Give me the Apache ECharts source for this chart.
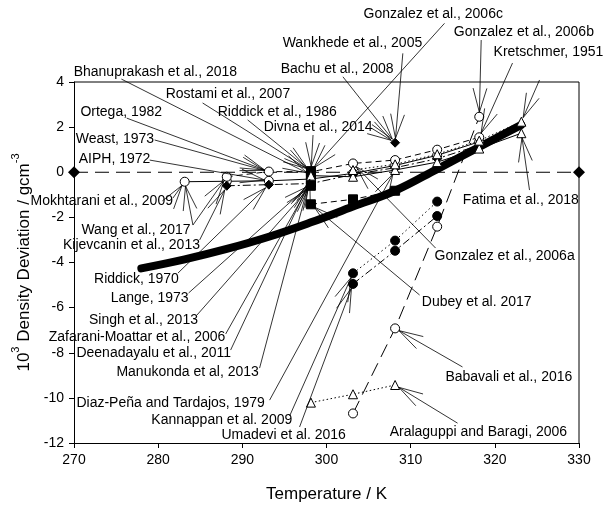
<!DOCTYPE html>
<html>
<head>
<meta charset="utf-8">
<script src="https://cdn.jsdelivr.net/npm/echarts@6/dist/echarts.min.js"></script>
<style>
  html, body { margin: 0; padding: 0; background: #fff; }
  #chart { width: 606px; height: 509px; }
</style>
</head>
<body>
<div id="chart"></div>
<script>
// ---- axis ticks ----
const xTicks = [270, 280, 290, 300, 310, 320, 330];
const yTicks = [4, 2, 0, -2, -4, -6, -8, -10, -12];

// ---- zero-deviation reference ----
const refT = [270, 330];
const refD = [0, 0];

// ---- smoothed correlation curve ----
const curveT = [278, 283.15, 288.15, 293.15, 298.15, 303.15, 308.15, 313.15, 318.15, 323.15];
const curveD = [-4.26, -3.86, -3.4, -2.86, -2.22, -1.52, -0.82, 0.14, 1.12, 2.1];

// ---- literature data sets ----
const circAT = [283.15, 288.15, 293.15, 298.15, 303.15, 308.15, 313.15, 318.15];
const circAD = [-0.42, -0.4, -0.38, -0.3, -0.05, 0.3, 0.75, 1.35];

const circBT = [288.15, 293.15, 298.15, 303.15, 308.15, 313.15, 318.15];
const circBD = [-0.2, 0.03, 0.02, 0.39, 0.54, 1.0, 1.55];

const diamCT = [288.15, 293.15, 298.15, 303.15, 308.15, 313.15, 318.15];
const diamCD = [-0.6, -0.55, -0.5, -0.1, 0.2, 0.6, 1.2];

const sq298T = [298.15, 298.15, 298.15, 298.15, 298.15];
const sq298D = [0.05, -0.12, -0.3, -0.45, -0.6];

const triET = [298.15, 303.15, 308.15, 313.15, 318.15, 323.15];
const triED = [-0.15, -0.2, 0.1, 0.45, 1.05, 1.73];

const triFT = [303.15, 308.15, 313.15, 318.15, 323.15];
const triFD = [0.1, 0.35, 0.8, 1.4, 2.24];

const gonzCT = [308.15];
const gonzCD = [1.31];

const dubeyT = [298.15, 303.15, 308.15];
const dubeyD = [-1.42, -1.2, -0.82];

const kannT = [303.15, 308.15, 313.15];
const kannD = [-4.48, -3.03, -1.3];

const umaT = [303.15, 308.15, 313.15];
const umaD = [-4.95, -3.48, -1.94];

const babaT = [303.15, 308.15, 313.15, 318.15];
const babaD = [-10.69, -6.92, -2.41, 2.46];

const aralT = [298.15, 303.15, 308.15];
const aralD = [-10.21, -9.84, -9.43];

const sets = {
  circA: [circAT, circAD], circB: [circBT, circBD], diamC: [diamCT, diamCD],
  sq298: [sq298T, sq298D], triE: [triET, triED], triF: [triFT, triFD],
  gonzC: [gonzCT, gonzCD], dubey: [dubeyT, dubeyD], kann: [kannT, kannD],
  uma: [umaT, umaD], baba: [babaT, babaD], aral: [aralT, aralD]
};

// ---- source labels: text anchor, leader start, target point (all in axis units) ----
const notes = [
  { text: 'Bhanuprakash et al., 2018', at: [269.96, 4.44], align: 'left', links: [[275.63, 4.13, 'sq298', 1]] },
  { text: 'Rostami et al., 2007', at: [280.89, 3.45], align: 'left', links: [[285.28, 3.07, 'sq298', 0]] },
  { text: 'Ortega, 1982', at: [270.76, 2.68], align: 'left', links: [[276.26, 2.4, 'circB', 1]] },
  { text: 'Riddick et al., 1986', at: [287.07, 2.68], align: 'left', links: [[290.63, 2.32, 'sq298', 0]] },
  { text: 'Divna et al., 2014', at: [292.53, 1.98], align: 'left', links: [[305.36, 1.95, 'gonzC', 0], [298.4, 1.65, 'sq298', 0]] },
  { text: 'Weast, 1973', at: [270.2, 1.47], align: 'left', links: [[279.58, 1.43, 'circB', 1]] },
  { text: 'AIPH, 1972', at: [270.56, 0.59], align: 'left', links: [[278.99, 0.54, 'circA', 2]] },
  { text: 'Mokhtarani et al., 2009', at: [281.76, -1.27], align: 'right', links: [[281.76, -1.14, 'circA', 0]] },
  { text: 'Wang et al., 2017', at: [270.88, -2.56], align: 'left', links: [[284.13, -2.34, 'circA', 0], [284.13, -2.34, 'circB', 0]] },
  { text: 'Kijevcanin et al., 2013', at: [268.69, -3.23], align: 'left', links: [[284.93, -3.0, 'diamC', 0]] },
  { text: 'Riddick, 1970', at: [272.38, -4.75], align: 'left', links: [[282.35, -4.47, 'diamC', 1]] },
  { text: 'Lange, 1973', at: [274.36, -5.59], align: 'left', links: [[283.62, -5.35, 'diamC', 2]] },
  { text: 'Singh et al., 2013', at: [271.78, -6.55], align: 'left', links: [[284.61, -6.33, 'sq298', 4]] },
  { text: 'Zafarani-Moattar et al., 2006', at: [287.98, -7.29], align: 'right', links: [[288.02, -7.17, 'sq298', 3]] },
  { text: 'Deenadayalu et al., 2011', at: [270.29, -8.03], align: 'left', links: [[288.61, -7.88, 'sq298', 2]] },
  { text: 'Manukonda et al, 2013', at: [275.04, -8.84], align: 'left', links: [[292.05, -8.68, 'sq298', 1]] },
  { text: 'Diaz-Peña and Tardajos, 1979', at: [270.29, -10.24], align: 'left', links: [[293.24, -10.1, 'triE', 2]] },
  { text: 'Kannappan et al. 2009', at: [279.19, -10.98], align: 'left', links: [[295.62, -10.8, 'kann', 0]] },
  { text: 'Umadevi et al. 2016', at: [287.51, -11.65], align: 'left', links: [[296.8, -11.29, 'uma', 0]] },
  { text: 'Aralaguppi and Baragi, 2006', at: [307.5, -11.53], align: 'left', links: [[315.57, -11.12, 'aral', 2]] },
  { text: 'Babavali et al., 2016', at: [314.13, -9.06], align: 'left', links: [[316.16, -8.63, 'baba', 1]] },
  { text: 'Dubey et al. 2017', at: [311.33, -5.74], align: 'left', links: [[311.06, -5.44, 'dubey', 0]] },
  { text: 'Gonzalez et al., 2006a', at: [312.84, -3.71], align: 'left', links: [[312.96, -3.36, 'circB', 3]] },
  { text: 'Fatima et al., 2018', at: [316.2, -1.23], align: 'left', links: [[324.12, -0.79, 'triE', 5]] },
  { text: 'Kretschmer, 1951', at: [319.85, 5.34], align: 'left', links: [[322.1, 4.84, 'circB', 6], [325.31, 4.09, 'triF', 4]] },
  { text: 'Gonzalez et al., 2006b', at: [315.13, 6.2], align: 'left', links: [[318.38, 5.86, 'baba', 3]] },
  { text: 'Gonzalez et al., 2006c', at: [304.41, 7.01], align: 'left', links: [[314.02, 6.6, 'sq298', 0]] },
  { text: 'Wankhede et al., 2005', at: [294.79, 5.72], align: 'left', links: [[309.07, 5.27, 'gonzC', 0]] },
  { text: 'Bachu et al., 2008', at: [294.55, 4.58], align: 'left', links: [[301.95, 4.23, 'gonzC', 0]] }
];

const FONT = '"Liberation Sans", Arial, Helvetica, sans-serif';
const pairs = (T, D) => T.map((t, i) => [t, D[i]]);

function markerSeries(name, T, D, symbol, filled, dash, extra) {
  return Object.assign({
    name, type: 'line', data: pairs(T, D),
    symbol, symbolSize: symbol === 'triangle' ? 9 : 9,
    itemStyle: { color: filled ? '#000' : '#fff', borderColor: '#000', borderWidth: 1 },
    lineStyle: { color: '#000', width: 1, type: dash },
    z: 5, animation: false
  }, extra || {});
}

function renderNote(params, api) {
  const n = notes[params.dataIndex];
  const children = [];
  const p = api.coord(n.at);
  children.push({
    type: 'text', x: p[0], y: p[1],
    style: { text: n.text, fill: '#000', font: '14px ' + FONT, align: n.align, verticalAlign: 'middle' }
  });
  n.links.forEach(l => {
    const s = sets[l[2]];
    const a = api.coord([l[0], l[1]]);
    const t = api.coord([s[0][l[3]], s[1][l[3]]]);
    const ang = Math.atan2(a[1] - t[1], a[0] - t[0]);
    const tip = [t[0] + 4.5 * Math.cos(ang), t[1] + 4.5 * Math.sin(ang)];
    const len = 25, half = 0.28;
    children.push({ type: 'line', shape: { x1: a[0], y1: a[1], x2: tip[0], y2: tip[1] },
      style: { stroke: '#000', lineWidth: 0.8 } });
    children.push({ type: 'polyline', shape: { points: [
        [tip[0] + len * Math.cos(ang + half), tip[1] + len * Math.sin(ang + half)], tip,
        [tip[0] + len * Math.cos(ang - half), tip[1] + len * Math.sin(ang - half)] ] },
      style: { stroke: '#000', lineWidth: 0.8, fill: null } });
  });
  return { type: 'group', children };
}

const chart = echarts.init(document.getElementById('chart'), null, { renderer: 'canvas' });

const option = {
  backgroundColor: '#fff',
  animation: false,
  grid: { left: 74, right: 27, top: 82, bottom: 66, show: false },
  xAxis: {
    type: 'value', min: xTicks[0], max: xTicks[xTicks.length - 1], interval: 10,
    name: 'Temperature / K', nameLocation: 'middle', nameGap: 43,
    nameTextStyle: { fontFamily: FONT, fontSize: 17, color: '#000' },
    axisLine: { show: true, onZero: false, lineStyle: { color: '#000', width: 1 } },
    axisTick: { show: true, inside: false, length: 5, lineStyle: { color: '#000' } },
    axisLabel: { fontFamily: FONT, fontSize: 14, color: '#000', margin: 10 },
    splitLine: { show: false }
  },
  yAxis: {
    type: 'value', min: yTicks[yTicks.length - 1], max: yTicks[0], interval: 2,
    name: '{a|10}{s|3}{a| Density Deviation / gcm}{s|-3}',
    nameLocation: 'middle', nameGap: 40, nameRotate: 90,
    nameTextStyle: {
      fontFamily: FONT, color: '#000',
      rich: {
        a: { fontFamily: FONT, fontSize: 17, color: '#000', lineHeight: 22, verticalAlign: 'bottom' },
        s: { fontFamily: FONT, fontSize: 11, color: '#000', lineHeight: 22, verticalAlign: 'top' }
      }
    },
    axisLine: { show: true, onZero: false, lineStyle: { color: '#000', width: 1 } },
    axisTick: { show: true, inside: false, length: 5, lineStyle: { color: '#000' } },
    axisLabel: { fontFamily: FONT, fontSize: 14, color: '#000', margin: 10 },
    splitLine: { show: false }
  },
  series: [
    // frame: top and right borders
    { type: 'line', data: [[270, 4], [330, 4], [330, -12]], symbol: 'none',
      lineStyle: { color: '#000', width: 1 }, z: 1, silent: true, clip: false },
    // zero reference
    { type: 'line', data: pairs(refT, refD), symbol: 'diamond', symbolSize: 12,
      itemStyle: { color: '#000' }, lineStyle: { color: '#000', width: 1, type: [14, 7] },
      clip: false, z: 3 },
    // correlation curve
    { type: 'line', data: pairs(curveT, curveD), symbol: 'none', smooth: 0.4,
      lineStyle: { color: '#000', width: 8, cap: 'round' }, z: 2 },
    markerSeries('circA', circAT, circAD, 'circle', false, 'solid'),
    markerSeries('circB', circBT, circBD, 'circle', false, [6, 4]),
    markerSeries('diamC', diamCT, diamCD, 'diamond', true, [8, 3, 2, 3]),
    markerSeries('sq298', sq298T, sq298D, 'rect', true, 'solid', { lineStyle: { width: 0 } }),
    markerSeries('triE', triET, triED, 'triangle', false, 'solid'),
    markerSeries('triF', triFT, triFD, 'triangle', false, [1.5, 2.5]),
    markerSeries('gonzC', gonzCT, gonzCD, 'diamond', true, 'solid'),
    markerSeries('dubey', dubeyT, dubeyD, 'rect', true, [6, 4]),
    markerSeries('kann', kannT, kannD, 'circle', true, [1.5, 3]),
    markerSeries('uma', umaT, umaD, 'circle', true, [8, 3, 2, 3]),
    markerSeries('baba', babaT, babaD, 'circle', false, [14, 7]),
    markerSeries('aral', aralT, aralD, 'triangle', false, [1.5, 2.5]),
    {
      type: 'custom', clip: false, z: 10, silent: true,
      data: notes.map(n => n.at),
      renderItem: renderNote
    }
  ]
};

chart.setOption(option);
</script>
</body>
</html>
